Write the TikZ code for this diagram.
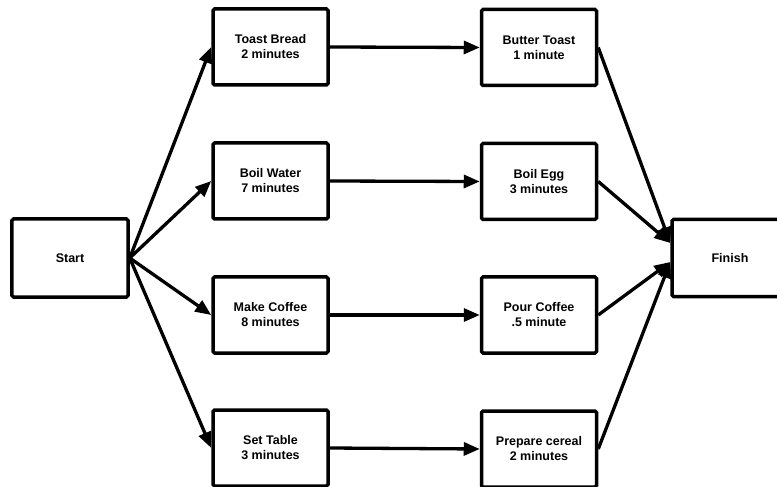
\documentclass[tikz,border=0pt]{standalone}
\usepackage{fontspec}
\setmainfont{Liberation Sans}
\usetikzlibrary{arrows.meta,calc}
\tikzset{
  task/.style={draw, line width=3.5bp, rounded corners=1.5bp, align=center,
    minimum width=115bp, minimum height=76bp, inner sep=2bp,
    font=\fontsize{12.5bp}{15bp}\selectfont\bfseries},
  link/.style={line width=3.3bp, -{Triangle[length=16bp,width=13bp]}}
}
\begin{document}
\begin{tikzpicture}[x=1bp,y=-1bp]
\useasboundingbox (0,0) rectangle (777,487);
\clip (0,0) rectangle (777,487);
% start and finish events
\node[task, minimum width=116bp, minimum height=78bp] (start) at (70,258) {Start};
\node[task, minimum width=116bp, minimum height=77bp] (finish) at (730,258) {Finish};
% first activities
\node[task] (toast)  at (270.5,47)  {Toast Bread\\2 minutes};
\node[task] (water)  at (270.5,181) {Boil Water\\7 minutes};
\node[task] (coffee) at (270.5,315) {Make Coffee\\8 minutes};
\node[task] (table)  at (270.5,448) {Set Table\\3 minutes};
% follow-up activities
\node[task] (butter) at (539,47.5)  {Butter Toast\\1 minute};
\node[task] (egg)    at (539,181.5) {Boil Egg\\3 minutes};
\node[task] (pour)   at (539,315)   {Pour Coffee\\.5 minute};
\node[task] (cereal) at (539,449)   {Prepare cereal\\2 minutes};
% entry points on the finish box
\coordinate (finA) at ($(finish.west)+(0,-15)$);
\coordinate (finB) at ($(finish.west)+(0,4)$);
% connectors
\foreach \n in {toast,water,coffee,table}
  \draw[link] (start.east) -- (\n.west);
\draw[link] (toast.east)  -- (butter.west);
\draw[link] (water.east)  -- (egg.west);
\draw[link] (coffee.east) -- (pour.west);
\draw[link] (table.east)  -- (cereal.west);
\draw[link] (butter.east) -- (finA);
\draw[link] (egg.east)    -- (finA);
\draw[link] (pour.east)   -- (finB);
\draw[link] (cereal.east) -- (finB);
\end{tikzpicture}
\end{document}
